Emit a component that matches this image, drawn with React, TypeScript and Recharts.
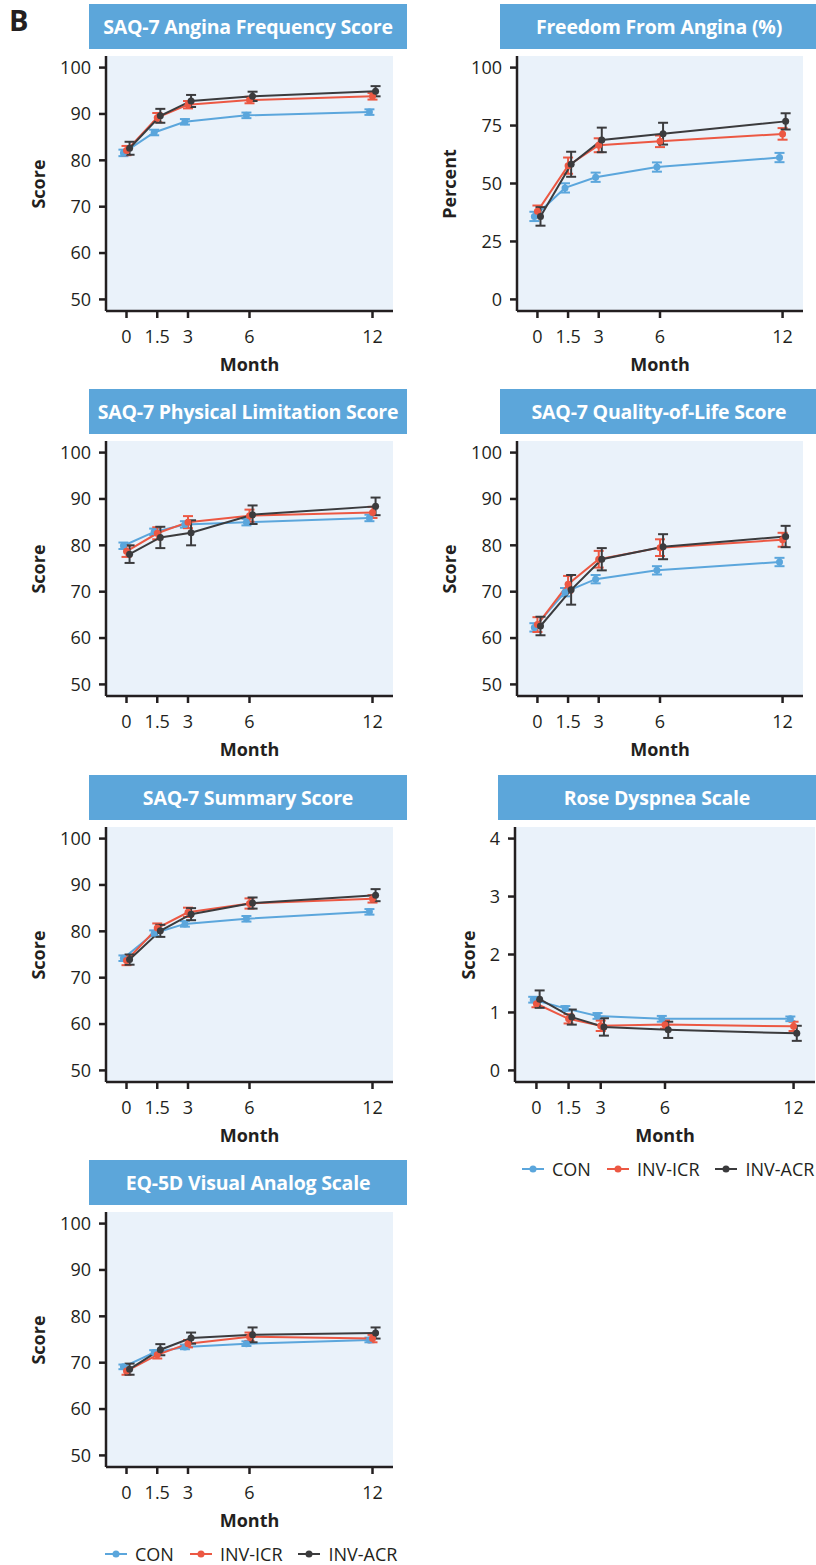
import React from 'react';
import { LineChart, Line, XAxis, YAxis, CartesianGrid, ErrorBar } from 'recharts';

// months of follow-up and the three randomized groups
const MONTHS = [0, 1.5, 3, 6, 12];
const MONTH_TICKS = [0, 1.5, 3, 6, 12];
const GROUPS = ['CON', 'INV-ICR', 'INV-ACR'];
const COLORS = ['#5ba6dc', '#ec5843', '#3b3b3d'];
const DODGE = [-0.15, 0, 0.15];

// SAQ-7 Angina Frequency Score
const afCON = [81.6, 86.0, 88.3, 89.7, 90.4];
const afCONErr = [0.7, 0.6, 0.6, 0.6, 0.6];
const afICR = [82.1, 89.2, 92.0, 93.0, 93.8];
const afICRErr = [1.0, 1.0, 0.8, 0.7, 0.7];
const afACR = [82.6, 89.6, 92.8, 93.8, 94.9];
const afACRErr = [1.4, 1.5, 1.3, 1.0, 1.1];

// Freedom From Angina (%)
const faCON = [35.8, 48.1, 52.7, 57.1, 61.2];
const faCONErr = [2.0, 2.0, 2.0, 2.0, 2.0];
const faICR = [38.0, 57.7, 66.5, 68.2, 71.4];
const faICRErr = [2.5, 3.5, 3.0, 2.5, 2.5];
const faACR = [35.8, 58.3, 68.8, 71.5, 76.8];
const faACRErr = [4.0, 5.4, 5.3, 4.7, 3.5];

// SAQ-7 Physical Limitation Score
const plCON = [79.9, 82.9, 84.5, 85.0, 85.9];
const plCONErr = [0.7, 0.7, 0.7, 0.7, 0.7];
const plICR = [78.7, 82.6, 85.0, 86.4, 87.1];
const plICRErr = [1.2, 1.3, 1.3, 1.3, 1.2];
const plACR = [78.1, 81.7, 82.7, 86.6, 88.4];
const plACRErr = [1.9, 2.3, 2.7, 2.0, 1.9];

// SAQ-7 Quality-of-Life Score
const qlCON = [62.3, 69.9, 72.7, 74.6, 76.4];
const qlCONErr = [0.9, 0.9, 0.9, 0.9, 0.9];
const qlICR = [62.9, 71.6, 77.0, 79.5, 81.2];
const qlICRErr = [1.6, 1.8, 1.8, 1.8, 1.5];
const qlACR = [62.6, 70.4, 77.0, 79.7, 81.9];
const qlACRErr = [2.0, 3.2, 2.4, 2.7, 2.3];

// SAQ-7 Summary Score
const ssCON = [74.2, 79.6, 81.6, 82.7, 84.2];
const ssCONErr = [0.6, 0.6, 0.6, 0.6, 0.6];
const ssICR = [73.7, 80.7, 84.1, 86.0, 87.0];
const ssICRErr = [1.0, 1.0, 1.0, 1.1, 0.8];
const ssACR = [73.9, 80.1, 83.7, 86.1, 87.8];
const ssACRErr = [1.1, 1.3, 1.3, 1.2, 1.3];

// Rose Dyspnea Scale
const rdCON = [1.22, 1.07, 0.94, 0.89, 0.89];
const rdCONErr = [0.05, 0.04, 0.05, 0.05, 0.04];
const rdICR = [1.15, 0.89, 0.77, 0.79, 0.76];
const rdICRErr = [0.06, 0.08, 0.09, 0.07, 0.08];
const rdACR = [1.23, 0.92, 0.75, 0.70, 0.64];
const rdACRErr = [0.15, 0.13, 0.15, 0.14, 0.13];

// EQ-5D Visual Analog Scale
const eqCON = [69.1, 72.2, 73.4, 74.1, 74.9];
const eqCONErr = [0.5, 0.5, 0.5, 0.5, 0.5];
const eqICR = [68.2, 71.7, 74.1, 75.6, 75.2];
const eqICRErr = [0.8, 0.8, 0.8, 0.9, 0.8];
const eqACR = [68.6, 72.8, 75.3, 76.0, 76.4];
const eqACRErr = [1.2, 1.2, 1.2, 1.6, 1.2];

const SCORE_TICKS = [50, 60, 70, 80, 90, 100];
const PERCENT_TICKS = [0, 25, 50, 75, 100];
const ROSE_TICKS = [0, 1, 2, 3, 4];

const INK = '#231f20';
const PLOT_BG = '#eaf2fa';
const TITLE_BG = '#5ca6da';
const PLOT_H = 255;
const Y_W = 70;
const X_H = 76;

function build(vals: number[], errs: number[], g: number) {
  return MONTHS.map((m, i) => ({ x: m + DODGE[g], y: vals[i], e: errs[i] }));
}

type PanelProps = {
  plotLeft: number;
  top: number;
  plotW: number;
  title: string;
  yLabel: string;
  yLabelGap: number;
  yDomain: [number, number];
  yTicks: number[];
  series: { vals: number[]; errs: number[] }[];
};

function Panel({ plotLeft, top, plotW, title, yLabel, yLabelGap, yDomain, yTicks, series }: PanelProps) {
  const plotTop = top + 52;
  return (
    <>
      <div
        style={{
          position: 'absolute',
          left: plotLeft - 17,
          top,
          width: 318,
          height: 45,
          background: TITLE_BG,
          color: '#fff',
          fontWeight: 700,
          fontSize: 19.5,
          letterSpacing: -0.2,
          display: 'flex',
          alignItems: 'center',
          justifyContent: 'center',
          whiteSpace: 'nowrap',
        }}
      >
        {title}
      </div>
      <div
        style={{
          position: 'absolute',
          left: plotLeft - yLabelGap,
          top: plotTop + PLOT_H / 2,
          transform: 'translate(-50%, -50%) rotate(-90deg)',
          fontWeight: 700,
          fontSize: 18,
          color: INK,
          whiteSpace: 'nowrap',
        }}
      >
        {yLabel}
      </div>
      <div style={{ position: 'absolute', left: plotLeft - Y_W, top: plotTop }}>
        <LineChart width={Y_W + plotW + 14} height={PLOT_H + X_H} margin={{ top: 0, right: 14, bottom: 0, left: 0 }}>
          <CartesianGrid horizontal={false} vertical={false} fill={PLOT_BG} fillOpacity={1} stroke="none" />
          <XAxis
            type="number"
            dataKey="x"
            domain={[-1, 13]}
            ticks={MONTH_TICKS}
            allowDataOverflow
            height={X_H}
            tickSize={7}
            tickMargin={12}
            tick={{ fontSize: 18, fill: INK }}
            axisLine={{ stroke: INK, strokeWidth: 2.5 }}
            tickLine={{ stroke: INK, strokeWidth: 2.5 }}
            label={{ value: 'Month', position: 'insideBottom', offset: 16, fill: INK, fontSize: 18, fontWeight: 700 }}
          />
          <YAxis
            type="number"
            domain={yDomain}
            ticks={yTicks}
            allowDataOverflow
            width={Y_W}
            tickSize={7}
            tickMargin={8}
            tick={{ fontSize: 18, fill: INK }}
            axisLine={{ stroke: INK, strokeWidth: 2.5 }}
            tickLine={{ stroke: INK, strokeWidth: 2.5 }}
          />
          {series.map((s, g) => (
            <Line
              key={GROUPS[g]}
              name={GROUPS[g]}
              data={build(s.vals, s.errs, g)}
              dataKey="y"
              type="linear"
              stroke={COLORS[g]}
              strokeWidth={2}
              dot={{ r: 3.5, fill: COLORS[g], stroke: COLORS[g], strokeWidth: 0 }}
              isAnimationActive={false}
            >
              <ErrorBar dataKey="e" direction="y" width={5} stroke={COLORS[g]} strokeWidth={2} />
            </Line>
          ))}
        </LineChart>
      </div>
    </>
  );
}

function Legend({ left, top }: { left: number; top: number }) {
  return (
    <div
      style={{
        position: 'absolute',
        left,
        top,
        display: 'flex',
        alignItems: 'center',
        fontSize: 18,
        color: INK,
        whiteSpace: 'nowrap',
      }}
    >
      {GROUPS.map((g, i) => (
        <div key={g} style={{ display: 'flex', alignItems: 'center', marginRight: 16 }}>
          <svg width={22} height={10} style={{ marginRight: 8 }}>
            <line x1={0} y1={5} x2={22} y2={5} stroke={COLORS[i]} strokeWidth={2} />
            <circle cx={11} cy={5} r={3.5} fill={COLORS[i]} />
          </svg>
          <span>{g}</span>
        </div>
      ))}
    </div>
  );
}

const ROWS = [4, 389, 775, 1160];
const LEFT_X = 106;
const RIGHT_X = 517;

export default function App() {
  return (
    <div
      style={{
        position: 'absolute',
        left: 0,
        top: 0,
        width: 816,
        height: 1565,
        overflow: 'hidden',
        background: '#fff',
        fontFamily: "'Open Sans', sans-serif",
      }}
    >
      <div style={{ position: 'absolute', left: 9, top: 0, fontSize: 29, fontWeight: 700, color: INK }}>B</div>

      <Panel
        plotLeft={LEFT_X}
        top={ROWS[0]}
        plotW={287}
        title="SAQ-7 Angina Frequency Score"
        yLabel="Score"
        yLabelGap={68}
        yDomain={[47.5, 102.5]}
        yTicks={SCORE_TICKS}
        series={[
          { vals: afCON, errs: afCONErr },
          { vals: afICR, errs: afICRErr },
          { vals: afACR, errs: afACRErr },
        ]}
      />
      <Panel
        plotLeft={RIGHT_X}
        top={ROWS[0]}
        plotW={286}
        title="Freedom From Angina (%)"
        yLabel="Percent"
        yLabelGap={68}
        yDomain={[-5, 105]}
        yTicks={PERCENT_TICKS}
        series={[
          { vals: faCON, errs: faCONErr },
          { vals: faICR, errs: faICRErr },
          { vals: faACR, errs: faACRErr },
        ]}
      />
      <Panel
        plotLeft={LEFT_X}
        top={ROWS[1]}
        plotW={287}
        title="SAQ-7 Physical Limitation Score"
        yLabel="Score"
        yLabelGap={68}
        yDomain={[47.5, 102.5]}
        yTicks={SCORE_TICKS}
        series={[
          { vals: plCON, errs: plCONErr },
          { vals: plICR, errs: plICRErr },
          { vals: plACR, errs: plACRErr },
        ]}
      />
      <Panel
        plotLeft={RIGHT_X}
        top={ROWS[1]}
        plotW={286}
        title="SAQ-7 Quality-of-Life Score"
        yLabel="Score"
        yLabelGap={68}
        yDomain={[47.5, 102.5]}
        yTicks={SCORE_TICKS}
        series={[
          { vals: qlCON, errs: qlCONErr },
          { vals: qlICR, errs: qlICRErr },
          { vals: qlACR, errs: qlACRErr },
        ]}
      />
      <Panel
        plotLeft={LEFT_X}
        top={ROWS[2]}
        plotW={287}
        title="SAQ-7 Summary Score"
        yLabel="Score"
        yLabelGap={68}
        yDomain={[47.5, 102.5]}
        yTicks={SCORE_TICKS}
        series={[
          { vals: ssCON, errs: ssCONErr },
          { vals: ssICR, errs: ssICRErr },
          { vals: ssACR, errs: ssACRErr },
        ]}
      />
      <Panel
        plotLeft={515}
        top={ROWS[2]}
        plotW={300}
        title="Rose Dyspnea Scale"
        yLabel="Score"
        yLabelGap={47}
        yDomain={[-0.2, 4.2]}
        yTicks={ROSE_TICKS}
        series={[
          { vals: rdCON, errs: rdCONErr },
          { vals: rdICR, errs: rdICRErr },
          { vals: rdACR, errs: rdACRErr },
        ]}
      />
      <Legend left={522} top={1157} />
      <Panel
        plotLeft={LEFT_X}
        top={ROWS[3]}
        plotW={287}
        title="EQ-5D Visual Analog Scale"
        yLabel="Score"
        yLabelGap={68}
        yDomain={[47.5, 102.5]}
        yTicks={SCORE_TICKS}
        series={[
          { vals: eqCON, errs: eqCONErr },
          { vals: eqICR, errs: eqICRErr },
          { vals: eqACR, errs: eqACRErr },
        ]}
      />
      <Legend left={105} top={1542} />
    </div>
  );
}
